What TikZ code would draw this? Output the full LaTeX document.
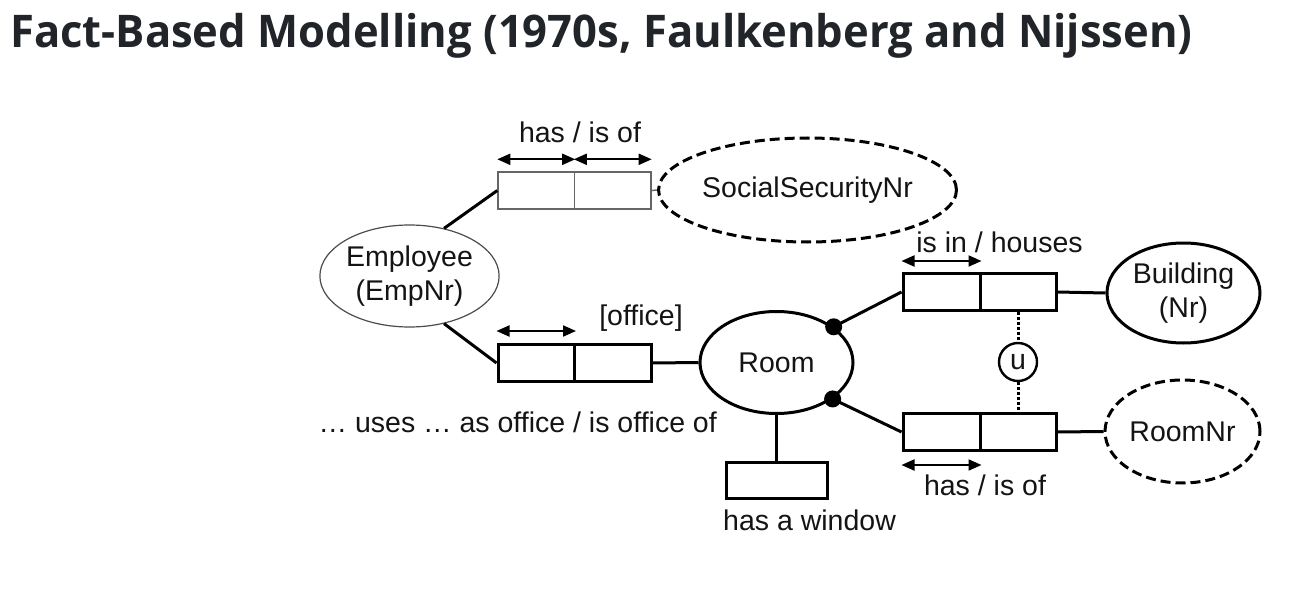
\documentclass[tikz,border=0pt]{standalone}
\usepackage{fontspec}
\usetikzlibrary{arrows.meta,shapes.geometric}
\newfontfamily\dfont{Liberation Sans}
\newfontfamily\titlefont{Open Sans}
\definecolor{titlecol}{HTML}{212529}
\begin{document}
\begin{tikzpicture}[x=1pt,y=-1pt,
  every node/.style={font=\dfont\fontsize{28.5}{34}\selectfont, text=black!92},
  thinline/.style={line width=1.4pt, draw=black!60},
  thickline/.style={line width=3pt, draw=black},
  thincell/.style={rectangle, thinline, minimum width=76.5pt, minimum height=37pt, inner sep=0pt},
  thickcell/.style={rectangle, line width=3pt, draw=black, minimum width=76.5pt, minimum height=37pt, inner sep=0pt},
  entity/.style={ellipse, line width=3pt, draw=black, inner sep=0pt, align=center},
  valuetype/.style={ellipse, line width=3pt, draw=black, dash pattern=on 10pt off 5pt, inner sep=0pt, align=center},
  biarrow/.style={line width=2pt, {Triangle[length=13pt,width=11pt]}-{Triangle[length=13pt,width=11pt]}},
  dotnode/.style={circle, fill=black, minimum size=17pt, inner sep=0pt},
  dottedline/.style={line width=3pt, dash pattern=on 3pt off 2pt}
]
\useasboundingbox (0,0) rectangle (1307,599);
\fill[white] (0,0) rectangle (1307,599);

% title
\node[anchor=base west, inner sep=0pt, font=\titlefont\bfseries\fontsize{45}{50}\selectfont, text=titlecol] (title) at (10,48) {\scalebox{0.968}[1]{Fact-Based Modelling (1970s, Faulkenberg and Nijssen)}};

% Employee
\node[ellipse, line width=1.2pt, draw=black!70, minimum width=179pt, minimum height=102pt, inner sep=0pt, align=center] (emp) at (409.5,276) {Employee\\(EmpNr)};

% top fact type (Employee - SocialSecurityNr)
\node[thincell] (t1) at (536.25,190.5) {};
\node[thincell] (t2) at (612.75,190.5) {};
\draw[biarrow] ([yshift=12pt]t1.north west) -- ([yshift=12pt]t1.north east);
\draw[biarrow] ([yshift=12pt]t2.north west) -- ([yshift=12pt]t2.north east);
\node[anchor=base, inner sep=0pt] (lblhas1) at (580,143) {has / is of};
\node[valuetype, minimum width=257pt, minimum height=104pt] (ssn) at (807.5,190) {SocialSecurityNr};
\draw[thinline] (t2.east) -- (ssn.west);
\draw[thickline] (emp.54.5) -- (t1.west);

% bottom-left fact type (Employee uses Room as office)
\node[thickcell] (o1) at (536.25,363) {};
\node[thickcell] (o2) at (612.75,363) {};
\draw[biarrow] ([yshift=12pt]o1.north west) -- ([yshift=12pt]o1.north east);
\node[inner sep=0pt] (lbloffice) at (641,318) {[office]};
\node[anchor=base east, inner sep=0pt] (lbluses) at (717,432) {\dots\ uses \dots\ as office / is office of};
\draw[thickline] (emp.-54.5) -- (o1.west);

% Room
\node[entity, minimum width=153pt, minimum height=102pt] (room) at (776.5,362.5) {Room};
\draw[thickline] (o2.east) -- (room.west);
\node[dotnode] (d1) at (room.32.6) {};
\node[dotnode] (d2) at (room.-33) {};

% has a window
\node[rectangle, line width=3pt, draw=black, minimum width=101pt, minimum height=36pt, inner sep=0pt] (win) at (776.5,480) {};
\draw[thickline] (room.south) -- (win.north);
\node[anchor=base west, inner sep=0pt] (lblwin) at (723,530) {has a window};

% top-right fact type (Room is in Building)
\node[thickcell, minimum width=77pt] (r1) at (941.5,292) {};
\node[thickcell, minimum width=76pt] (r2) at (1018,292) {};
\draw[biarrow] ([yshift=11pt]r1.north west) -- ([yshift=11pt]r1.north east);
\node[anchor=base, inner sep=0pt] (lblisin) at (999.5,252) {is in / houses};
\node[entity, minimum width=153pt, minimum height=100pt] (bld) at (1183.5,293) {Building\\(Nr)};
\draw[thickline] (r2.east) -- (bld.west);
\draw[thickline] (d1.center) -- (r1.west);

% bottom-right fact type (Room has RoomNr)
\node[thickcell, minimum width=77pt] (s1) at (941.5,432) {};
\node[thickcell, minimum width=76pt] (s2) at (1018,432) {};
\draw[biarrow] ([yshift=-13pt]s1.south west) -- ([yshift=-13pt]s1.south east);
\node[anchor=base, inner sep=0pt] (lblhas2) at (985,495) {has / is of};
\node[valuetype, minimum width=155pt, minimum height=103pt] (rnr) at (1182.5,431.5) {RoomNr};
\draw[thickline] (s2.east) -- (rnr.west);
\draw[thickline] (d2.center) -- (s1.west);

% uniqueness constraint
\node[circle, line width=2.4pt, draw=black, minimum size=38pt, inner sep=0pt] (uc) at (1018,362) {u};
\draw[dottedline] (r2.south) -- (uc.north);
\draw[dottedline] (uc.south) -- (s2.north);
\end{tikzpicture}
\end{document}
